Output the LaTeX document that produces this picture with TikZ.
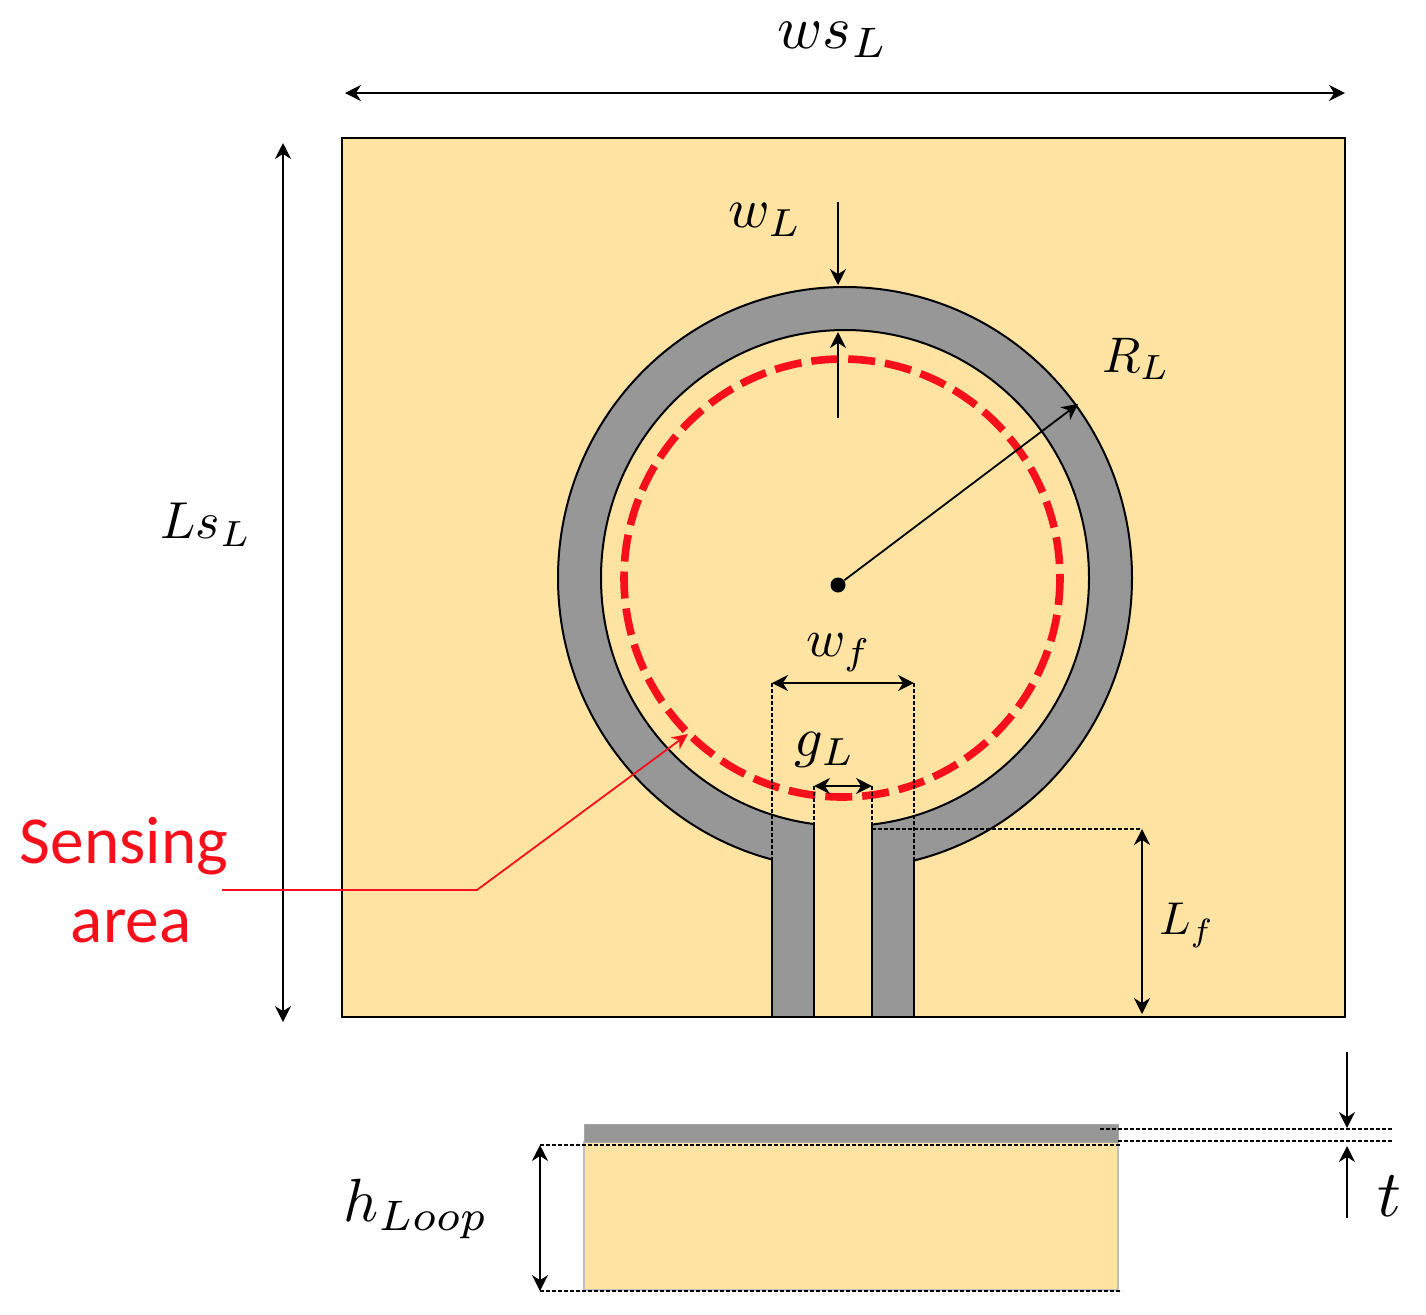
\documentclass[tikz,border=0pt]{standalone}
\usepackage{fontspec}
\newfontfamily\labelfont{Carlito}
\usetikzlibrary{arrows.meta}
\definecolor{subst}{HTML}{FEE3A2}
\definecolor{metal}{HTML}{979797}
\definecolor{sense}{HTML}{F70F1C}
\tikzset{
  dim/.style={line width=0.9pt,-{Stealth[length=8pt,width=8pt]}},
  dimboth/.style={line width=0.9pt,{Stealth[length=8pt,width=8pt]}-{Stealth[length=8pt,width=8pt]}},
  guide/.style={line width=1pt,dash pattern=on 2pt off 1pt},
  edge/.style={line width=1pt,draw=black},
  mathlabel/.style={inner sep=0pt},
  redlabel/.style={inner sep=0pt,text=sense,font=\labelfont\fontsize{33.6}{36}\selectfont}
}
\begin{document}
\begin{tikzpicture}[x=0.5pt,y=-0.5pt]
\useasboundingbox (0,0) rectangle (1426,1314);
% substrate
\fill[subst,draw=black,line width=1.1pt] (342,138) rectangle (1345,1017);
% ring
\fill[metal,even odd rule] (845,578) ellipse [x radius=287,y radius=291]
      (845,578) ellipse [x radius=244,y radius=248];
\draw[edge] (845,578) ellipse [x radius=287,y radius=291];
\draw[edge] (845,578) ellipse [x radius=244,y radius=248];
% gap and feed lines
\fill[subst] (815,805) rectangle (871,1016);
\fill[subst] (773,862) rectangle (914,880);
\fill[metal] (773,835) rectangle (814,1016);
\fill[metal] (872,835) rectangle (914,1016);
\fill[subst] (815,825) rectangle (871,1016);
\draw[edge] (772,858) -- (772,1017) (814,822) -- (814,1017)
            (872,822) -- (872,1017) (914,858) -- (914,1017);
% sensing area
\draw[sense,line width=3.8pt,dash pattern=on 13.5pt off 5pt] (842,578) ellipse [x radius=218,y radius=219];
% side view
\fill[subst,draw=black!25,line width=0.6pt] (584,1142) rectangle (1118,1290);
\fill[metal,draw=black!35,line width=0.5pt] (584,1124) rectangle (1118,1142);
% named anchors
\coordinate (wsa) at (345,93); \coordinate (wsb) at (1345,93);
\coordinate (lsa) at (283,143); \coordinate (lsb) at (283,1022);
\coordinate (wla) at (838,202); \coordinate (wlb) at (838,285);
\coordinate (wlc) at (838,418); \coordinate (wld) at (838,332);
\coordinate (rim) at (1078,404);
\coordinate (wfa) at (772,683); \coordinate (wfb) at (914,683);
\coordinate (wfc) at (772,858); \coordinate (wfd) at (914,858);
\coordinate (gla) at (814,786); \coordinate (glb) at (872,786);
\coordinate (glc) at (814,822); \coordinate (gld) at (872,822);
\coordinate (lfa) at (1142,829); \coordinate (lfb) at (1142,1014);
\coordinate (lfc) at (872,829);
\coordinate (sa) at (222,890); \coordinate (sb) at (477,890); \coordinate (sc) at (688,734);
\coordinate (ha) at (540,1145); \coordinate (hb) at (540,1291);
\coordinate (hc) at (1120,1145); \coordinate (hd) at (1122,1291);
\coordinate (ta) at (1347,1052); \coordinate (tb) at (1347,1128);
\coordinate (tc) at (1347,1218); \coordinate (td) at (1347,1146);
\coordinate (ga) at (1100,1129); \coordinate (gb) at (1392,1129);
\coordinate (gc) at (1118,1141); \coordinate (gd) at (1392,1141);
\node[circle,fill=black,inner sep=0pt,minimum size=7.5pt] (ctr) at (838,585) {};
% dimensions
\draw[dimboth] (wsa) -- (wsb);
\draw[dimboth] (lsa) -- (lsb);
\draw[dim] (wla) -- (wlb);
\draw[dim] (wlc) -- (wld);
\draw[dim] (ctr) -- (rim);
\draw[dimboth] (wfa) -- (wfb);
\draw[dimboth] (gla) -- (glb);
\draw[dimboth] (lfa) -- (lfb);
\draw[dimboth] (ha) -- (hb);
\draw[dim] (ta) -- (tb);
\draw[dim] (tc) -- (td);
\draw[guide] (wfa) -- (wfc);
\draw[guide] (wfb) -- (wfd);
\draw[guide] (gla) -- (glc);
\draw[guide] (glb) -- (gld);
\draw[guide] (lfc) -- (lfa);
\draw[guide] (ha) -- (hc);
\draw[guide] (hb) -- (hd);
\draw[guide] (ga) -- (gb);
\draw[guide] (gc) -- (gd);
\draw[sense,line width=0.9pt,-{Stealth[length=8pt,width=7.5pt]}] (sa) -- (sb) -- (sc);
% labels
\node[mathlabel,scale=3.05] (lws) at (833,40) {$ws_L$};
\node[mathlabel,scale=2.6] (lls) at (206,525) {$Ls_L$};
\node[mathlabel,scale=2.8] (lwl) at (765,220) {$w_L$};
\node[mathlabel,scale=2.5] (lrl) at (1136,359) {$R_L$};
\node[mathlabel,scale=2.65] (lwf) at (839,653) {$w_f$};
\node[mathlabel,scale=2.8] (lgl) at (825,750) {$g_L$};
\node[mathlabel,scale=2.3] (llf) at (1187,925) {$L_f$};
\node[mathlabel,scale=3.05] (lhl) at (416,1209) {$h_{Loop}$};
\node[mathlabel,scale=3.3] (lt) at (1389,1196) {$t$};
\node[redlabel] (lsen) at (124,846) {Sensing};
\node[redlabel] (lar) at (131,926) {area};
\end{tikzpicture}
\end{document}
